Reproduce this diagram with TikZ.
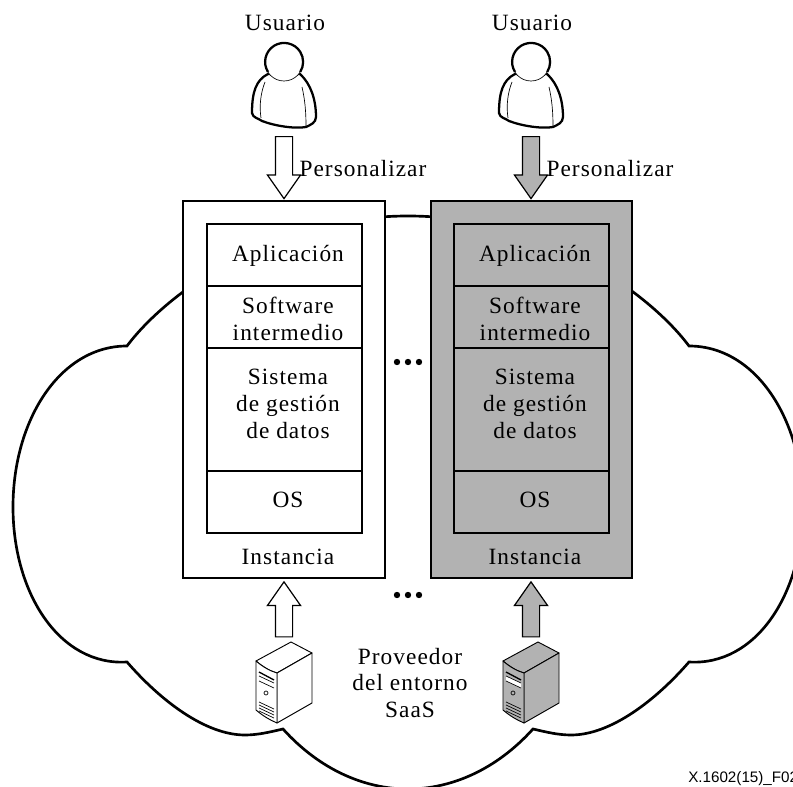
\documentclass[tikz,border=0pt]{standalone}
\usepackage{fontspec}
\setmainfont[LetterSpace=4.5]{Liberation Serif}
\newfontfamily\etiqueta{Liberation Sans}
\usetikzlibrary{shapes.arrows}
\definecolor{gris}{RGB}{178,178,178}
\tikzset{
  nube/.style={line width=2pt,line join=miter},
  caja/.style={draw,line width=0.8pt},
  texto/.style={inner sep=0pt,align=center,font=\fontsize{17.5}{20}\selectfont},
  flecha/.style={draw,line width=0.9pt,single arrow,single arrow head extend=6pt,
    single arrow tip angle=70,single arrow head indent=0pt,inner xsep=0pt,inner ysep=6pt},
  cuerpo/.style={line width=1.7pt,fill=white,line join=round},
  fino/.style={line width=0.5pt},
  torre/.style={line width=0.7pt,line join=round},
}
\begin{document}
\begin{tikzpicture}[x=0.75pt,y=-0.75pt]
    \clip (0,0) rectangle (793,787);
    % cloud
    \draw[nube]
	(127,346) .. controls (60,346) and (13,420) .. (13,507)
	.. controls (13,594) and (60,666) .. (127,662)
	.. controls (160,700) and (205,735) .. (245,735)
	.. controls (258,735) and (270,732) .. (283,729)
	.. controls (320,770) and (365,789) .. (408,789)
	.. controls (451,789) and (496,770) .. (533,729)
	.. controls (546,732) and (558,735) .. (571,735)
	.. controls (611,735) and (656,700) .. (689,662)
	.. controls (756,666) and (803,594) .. (803,507)
	.. controls (803,420) and (756,346) .. (689,346)
	.. controls (651,295) and (546,216) .. (408,216)
	.. controls (270,216) and (165,295) .. (127,346) -- cycle;
    \foreach \dx/\izq/\col/\nm in {0/183/white/A,247/184/gris/B}{
    \begin{scope}[shift={(\dx,0)}]
	% user
	\draw[cuerpo]
	(268,74) .. controls (256,80) and (252,92) .. (252,113)
	.. controls (253,118) and (258,118) .. (262,121)
	.. controls (275,126) and (295,129) .. (306,127)
	.. controls (310,125) and (316,123) .. (316,117)
	.. controls (316,100) and (311,84) .. (300,74) -- cycle;
	\draw[fino] (265,82) .. controls (261,92) and (259,105) .. (261,118);
	\draw[fino] (302,87) .. controls (305,100) and (306,112) .. (306,126);
	\draw[fino,fill=white] (284,62) circle (19);
	\draw[line width=1.7pt] (268,72) arc (148:392:19);
	% arrows
	\node[flecha,fill=\col,rotate=-90,minimum height=46.5pt] (personalizar\nm) at (284,161.5) {};
	\node[flecha,fill=\col,rotate=90,minimum height=41.25pt] (sube\nm) at (284,615.5) {};
	% instance
	\draw[caja,fill=\col] (\izq,201) rectangle (385,578);
	\draw[caja,fill=\col] (207,224) rectangle (362,533);
	\draw[caja] (207,286) -- (362,286);
	\draw[caja] (207,348) -- (362,348);
	\draw[caja] (207,471) -- (362,471);
	% server
	\draw[torre,fill=\col]
	(256,661) .. controls (263,667) and (270,671) .. (277,673) -- (312,653) -- (291,642) -- cycle;
	\draw[torre,fill=\col] (277,673) -- (312,653) -- (312,703) -- (277,723) -- cycle;
	\draw[torre,fill=\col]
	(256,661) .. controls (263,667) and (270,671) .. (277,673) -- (277,723)
	.. controls (270,720) and (263,716) .. (256,710) -- cycle;
	\fill[white] (259,676) -- (274,683) -- (274,688) -- (259,681) -- cycle;
	\draw[fino,line width=1pt] (259,672) -- (274,680);
	\foreach \h in {0,5} \draw[fino] (259,{676+\h}) -- (274,{683+\h});
	\draw[fino] (266,693) circle (2);
	\foreach \h in {0,3,6,9} \draw[fino] (259,{702+\h}) -- (274,{709+\h});
	% labels
	\node[texto] (usuario\nm) at (285,23) {Usuario};
	\node[texto] (aplicacion\nm) at (288,256) {Aplicación};
	\node[texto] (software\nm) at (288,319) {Software\\intermedio};
	\node[texto] (sistema\nm) at (288,404) {Sistema\\de gestión\\de datos};
	\node[texto] (os\nm) at (288,500) {OS};
	\node[texto] (instancia\nm) at (288,557) {Instancia};
	\node[texto] (texto\nm) at (363,169) {Personalizar};
    \end{scope}
    }
    \foreach \px in {397,408,419}{
	\fill (\px,362) circle (3.2);
	\fill (\px,595) circle (3.2);
    }
    \node[texto] (proveedor) at (410,683) {Proveedor\\del entorno\\SaaS};
    \node[anchor=west,inner sep=0pt,font=\etiqueta\fontsize{11.4}{13}\selectfont] (figura) at (688,779) {X.1602(15)\_F02};
\end{tikzpicture}
\end{document}
